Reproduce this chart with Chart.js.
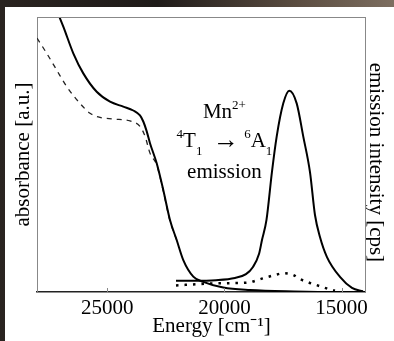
<!DOCTYPE html>
<html lang="en">
<head>
  <meta charset="UTF-8" />
  <title>Mn2+ absorbance / emission</title>
  <script src="https://cdn.jsdelivr.net/npm/chart.js"></script>
  <style>
    html, body {
      margin: 0;
      padding: 0;
      width: 394px;
      height: 341px;
      overflow: hidden;
      background: linear-gradient(90deg, #2a2420 0%, #1f1b19 40%, #5a4c40 75%, #7d6e60 100%);
    }
    .panel {
      position: absolute;
      left: 5px;
      top: 7px;
      width: 389px;
      height: 334px;
      background: #fff;
    }
  </style>
</head>
<body>
  <div class="panel">
    <canvas id="chart" width="389" height="334"></canvas>
  </div>

  <script>
    // energy axis (cm-1), drawn high -> low
    const xTickValues = [25000, 20000, 15000];

    // absorbance, solid
    const absE = [27163, 27048, 26877, 26451, 26024, 25452, 24884, 24317, 23890, 23604, 23463, 23320, 23177, 22891, 22610, 22324, 22038, 21756, 21329, 20902, 20049, 18909, 17031, 15068, 14000];
    const absY = [102.5, 100.1, 96.5, 86.8, 79.5, 72.8, 69.2, 67.4, 66.0, 64.2, 62.0, 58.5, 54.1, 46.8, 37.1, 26.2, 18.9, 11.6, 5.6, 3.7, 1.6, 0.7, 0.2, 0.0, 0.0];

    // absorbance, dashed
    const dashE = [28000, 27586, 27159, 26732, 26165, 25738, 25311, 24744, 24031, 23604, 23391, 23177, 22891, 22610, 22324, 22038];
    const dashY = [92.3, 86.8, 80.7, 74.7, 68.6, 65.0, 63.5, 62.9, 62.2, 60.2, 56.7, 50.5, 46.2, 36.7, 25.8, 18.9];

    // emission, solid
    const emE = [22067, 21342, 20360, 19549, 19080, 18781, 18525, 18397, 18205, 17970, 17770, 17488, 17232, 16916, 16634, 16348, 16135, 15922, 15623, 15068, 14556, 14086];
    const emY = [4.1, 4.1, 4.3, 5.1, 6.5, 9.1, 13.8, 18.9, 26.2, 43.8, 56.5, 68.6, 73.2, 68.6, 56.5, 43.6, 28.0, 20.0, 12.7, 5.5, 1.5, 0.25];

    // emission, dotted
    const dotE = [22067, 21043, 20049, 19050, 18341, 17842, 17488, 17061, 16775, 16421, 16062, 15636, 15281];
    const dotY = [2.4, 2.9, 3.2, 3.4, 5.0, 6.2, 6.8, 6.2, 4.7, 3.5, 2.5, 1.3, 0.5];

    // annotation: [level, segments]  (mode: 0 normal, 1 sup, -1 sub, 2 arrow)
    const noteE = 20000;
    const noteLines = [
      [63.3, [['Mn', 0], ['2+', 1]]],
      [52.7, [['4', 1], ['T', 0], ['1', -1], ['\u00A0\u00A0', 0], ['\u2192', 2], ['\u00A0', 0], ['6', 1], ['A', 0], ['1', -1]]],
      [41.5, [['emission', 0]]]
    ];

    const pts = (xs, ys) => xs.map((x, i) => ({ x: x, y: ys[i] }));
    const serif = "'Liberation Serif', 'Times New Roman', serif";

    const framePlugin = {
      id: 'frame',
      afterDatasetsDraw(chart) {
        const { ctx, chartArea: a, scales: { x } } = chart;
        ctx.save();
        ctx.strokeStyle = '#888';
        ctx.lineWidth = 1;
        ctx.beginPath();
        ctx.moveTo(a.left, a.top + 0.5);
        ctx.lineTo(a.right, a.top + 0.5);
        xTickValues.forEach(v => {
          const px = Math.round(x.getPixelForValue(v)) + 0.5;
          ctx.moveTo(px, a.bottom);
          ctx.lineTo(px, a.bottom - 4);
        });
        ctx.stroke();
        ctx.restore();
      }
    };

    const notePlugin = {
      id: 'note',
      afterDatasetsDraw(chart) {
        const { ctx, scales: { x, y } } = chart;
        const fonts = { 0: '21px ' + serif, 1: '13px ' + serif, '-1': '13px ' + serif, 2: '26px ' + serif };
        ctx.save();
        ctx.fillStyle = '#000';
        ctx.textBaseline = 'alphabetic';
        const cx = x.getPixelForValue(noteE);
        noteLines.forEach(([lv, segs]) => {
          let w = 0;
          segs.forEach(([t, m]) => { ctx.font = fonts[m]; w += ctx.measureText(t).width; });
          let px = cx - w / 2;
          const base = y.getPixelForValue(lv);
          segs.forEach(([t, m]) => {
            ctx.font = fonts[m];
            const dy = m === 1 ? -9 : (m === -1 ? 8 : (m === 2 ? 1 : 0));
            ctx.fillText(t, px, base + dy);
            px += ctx.measureText(t).width;
          });
        });
        ctx.restore();
      }
    };

    new Chart(document.getElementById('chart'), {
      type: 'line',
      data: {
        datasets: [
          { data: pts(absE, absY), borderColor: '#000', borderWidth: 2 },
          { data: pts(dashE, dashY), borderColor: '#222', borderWidth: 1.3, borderDash: [5, 5] },
          { data: pts(emE, emY), borderColor: '#000', borderWidth: 2 },
          { data: pts(dotE, dotY), borderColor: '#000', borderWidth: 2.5, borderDash: [2.5, 6] }
        ]
      },
      options: {
        responsive: false,
        devicePixelRatio: 1,
        animation: false,
        layout: { padding: { top: 10, left: 0, right: 0, bottom: 0 } },
        elements: {
          point: { radius: 0 },
          line: { cubicInterpolationMode: 'monotone', fill: false }
        },
        plugins: { legend: { display: false }, tooltip: { enabled: false } },
        scales: {
          x: {
            type: 'linear',
            min: 14000,
            max: 28000,
            reverse: true,
            afterBuildTicks: s => { s.ticks = xTickValues.map(v => ({ value: v })); },
            afterFit: s => { s.height = 49; },
            grid: { display: false, drawTicks: false },
            border: { display: true, color: '#222', width: 1.5 },
            ticks: {
              color: '#000',
              padding: 4,
              maxRotation: 0,
              font: { family: serif, size: 21 },
              callback: v => String(v)
            },
            title: {
              display: true,
              text: '\u00A0\u00A0\u00A0\u00A0Energy [cm\u207B\u00B9]',
              color: '#000',
              padding: { top: 0, bottom: 2 },
              font: { family: serif, size: 21 }
            }
          },
          y: {
            position: 'left',
            min: 0,
            max: 100,
            afterFit: s => { s.width = 32; },
            grid: { display: false, drawTicks: false },
            border: { display: true, color: '#888', width: 1 },
            ticks: { display: false },
            title: {
              display: true,
              text: 'absorbance [a.u.]',
              color: '#000',
              padding: { top: 6, bottom: 0 },
              font: { family: serif, size: 21 }
            }
          },
          y2: {
            position: 'right',
            min: 0,
            max: 100,
            afterFit: s => { s.width = 29; },
            grid: { display: false, drawTicks: false },
            border: { display: true, color: '#888', width: 1 },
            ticks: { display: false },
            title: {
              display: true,
              text: '\u00A0\u00A0\u00A0emission intensity [cps]',
              color: '#000',
              padding: { top: 6, bottom: 0 },
              font: { family: serif, size: 21 }
            }
          }
        }
      },
      plugins: [framePlugin, notePlugin]
    });
  </script>
</body>
</html>
